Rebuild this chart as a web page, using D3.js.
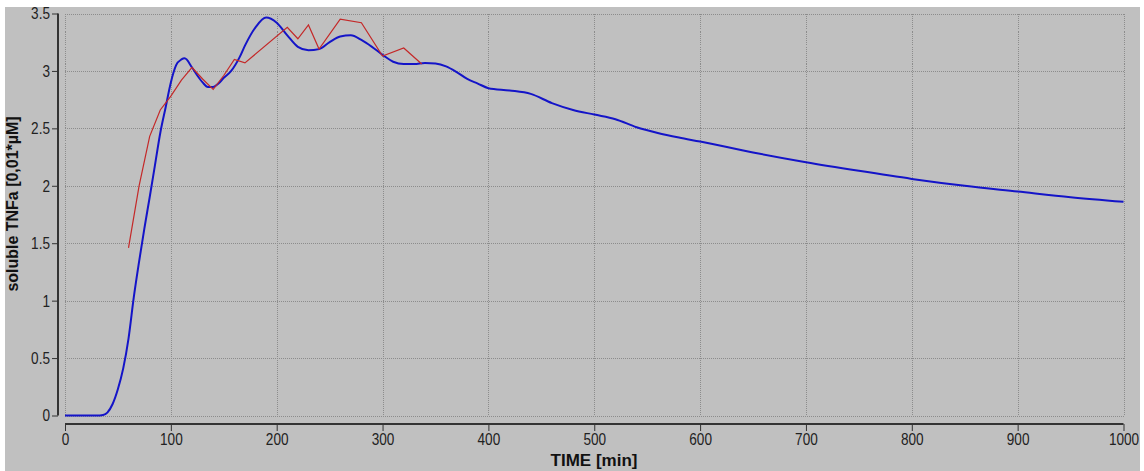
<!DOCTYPE html>
<html>
<head>
<meta charset="utf-8">
<script src="https://cdn.jsdelivr.net/npm/d3@7"></script>
<style>
  body { margin: 0; background: #fff; }
  .axis text { font-family: "Liberation Sans", Arial, sans-serif; font-size: 17px; fill: #222; }
  .axis line, .axis path { stroke: #333; }
  .axis path { stroke-width: 2; }
  .grid line { stroke: #8c8c8c; stroke-dasharray: 1,1; shape-rendering: crispEdges; }
  .label { font-family: "Liberation Sans", Arial, sans-serif; font-weight: bold; font-size: 17px; fill: #111; }
</style>
</head>
<body>
<div class="chart"></div>
<script>
// simulated soluble TNFa (blue)
const simTime = [0, 30, 36, 40, 45, 50, 55, 60, 65, 70, 75, 80, 85, 90, 95, 100, 105, 110, 113, 120, 125, 130, 135, 140, 145, 150, 157, 165, 170, 180, 190, 200, 210, 220, 230, 240, 250, 260, 270, 280, 290, 300, 310, 320, 330, 340, 350, 360, 370, 380, 390, 400, 420, 440, 460, 480, 500, 520, 540, 560, 580, 600, 650, 700, 750, 800, 850, 900, 950, 1000]
const simValue = [0, 0, 0.005, 0.025, 0.1, 0.23, 0.41, 0.67, 1.03, 1.34, 1.63, 1.9, 2.18, 2.46, 2.68, 2.9, 3.05, 3.1, 3.11, 3.03, 2.96, 2.9, 2.86, 2.86, 2.89, 2.94, 3.0, 3.12, 3.22, 3.38, 3.465, 3.42, 3.31, 3.21, 3.18, 3.19, 3.25, 3.3, 3.31, 3.27, 3.21, 3.14, 3.08, 3.06, 3.06, 3.07, 3.065, 3.04, 2.99, 2.93, 2.89, 2.85, 2.83, 2.8, 2.72, 2.66, 2.62, 2.58, 2.51, 2.46, 2.42, 2.385, 2.29, 2.205, 2.13, 2.06, 2.0, 1.95, 1.9, 1.86]

// measured soluble TNFa (red)
const expTime = [60, 70, 80, 90, 100, 110, 120, 130, 140, 150, 160, 170, 210, 220, 230, 240, 260, 280, 300, 320, 337]
const expValue = [1.46, 2.0, 2.43, 2.66, 2.78, 2.92, 3.03, 2.93, 2.84, 2.96, 3.1, 3.07, 3.38, 3.28, 3.4, 3.19, 3.45, 3.42, 3.13, 3.2, 3.06]

const xTicks = [0, 100, 200, 300, 400, 500, 600, 700, 800, 900, 1000]
const yTicks = [0, 0.5, 1, 1.5, 2, 2.5, 3, 3.5]

const width = 1144
const height = 471

const svg = d3.select('.chart')
  .append('svg')
  .attr('width', width)
  .attr('height', height)

// grey panel
svg.append('rect')
  .attr('x', 5)
  .attr('y', 7)
  .attr('width', 1135)
  .attr('height', height - 7)
  .attr('fill', '#c0c0c0')

const x = d3.scaleLinear().domain([0, 1000]).range([65, 1123.5])
const y = d3.scaleLinear().domain([0, 3.5]).range([415.5, 13.5])

// grid
const grid = svg.append('g').attr('class', 'grid')
grid.selectAll('.vg')
  .data(xTicks)
  .join('line')
  .attr('x1', d => Math.round(x(d)) + 0.5)
  .attr('x2', d => Math.round(x(d)) + 0.5)
  .attr('y1', y(3.5))
  .attr('y2', y(0))
grid.selectAll('.hg')
  .data(yTicks)
  .join('line')
  .attr('x1', x(0))
  .attr('x2', x(1000))
  .attr('y1', d => Math.round(y(d)) + 0.5)
  .attr('y2', d => Math.round(y(d)) + 0.5)

// axes
const xAxis = d3.axisBottom(x)
  .tickValues(xTicks)
  .tickSize(7)
  .tickPadding(2)
  .tickFormat(d3.format('d'))

const yAxis = d3.axisLeft(y)
  .tickValues(yTicks)
  .tickSize(6)
  .tickPadding(2)
  .tickFormat(d => d)

// the original uses a narrow font, squeeze the tick labels a bit
svg.append('g')
  .attr('class', 'axis axis--x')
  .attr('transform', 'translate(0,424)')
  .call(xAxis)
  .call(g => g.select('.domain').attr('d', `M${x(0)},0H${x(1000)}`))
  .call(g => g.selectAll('.tick text').attr('transform', 'scale(0.8,1)'))

svg.append('g')
  .attr('class', 'axis axis--y')
  .attr('transform', 'translate(58,0)')
  .call(yAxis)
  .call(g => g.select('.domain').attr('d', `M0,${y(3.5)}V${y(0)}`))
  .call(g => g.selectAll('.tick text').attr('x', 0).attr('transform', 'translate(-8,0) scale(0.8,1)'))

// lines
const line = d3.line()
  .x(d => x(d[0]))
  .y(d => y(d[1]))
  .curve(d3.curveMonotoneX)

svg.append('path')
  .datum(simTime.map((t, i) => [t, simValue[i]]))
  .attr('fill', 'none')
  .attr('stroke', '#1414c8')
  .attr('stroke-width', 2)
  .attr('d', line)

svg.append('path')
  .datum(expTime.map((t, i) => [t, expValue[i]]))
  .attr('fill', 'none')
  .attr('stroke', '#c42828')
  .attr('stroke-width', 1.2)
  .attr('d', line.curve(d3.curveLinear))

// labels
svg.append('text')
  .attr('class', 'label')
  .attr('x', 594)
  .attr('y', 466)
  .attr('text-anchor', 'middle')
  .text('TIME [min]')

svg.append('text')
  .attr('class', 'label')
  .attr('transform', 'translate(18,204) rotate(-90) scale(0.94,1)')
  .attr('text-anchor', 'middle')
  .text('soluble TNFa [0,01*µM]')
</script>
</body>
</html>
